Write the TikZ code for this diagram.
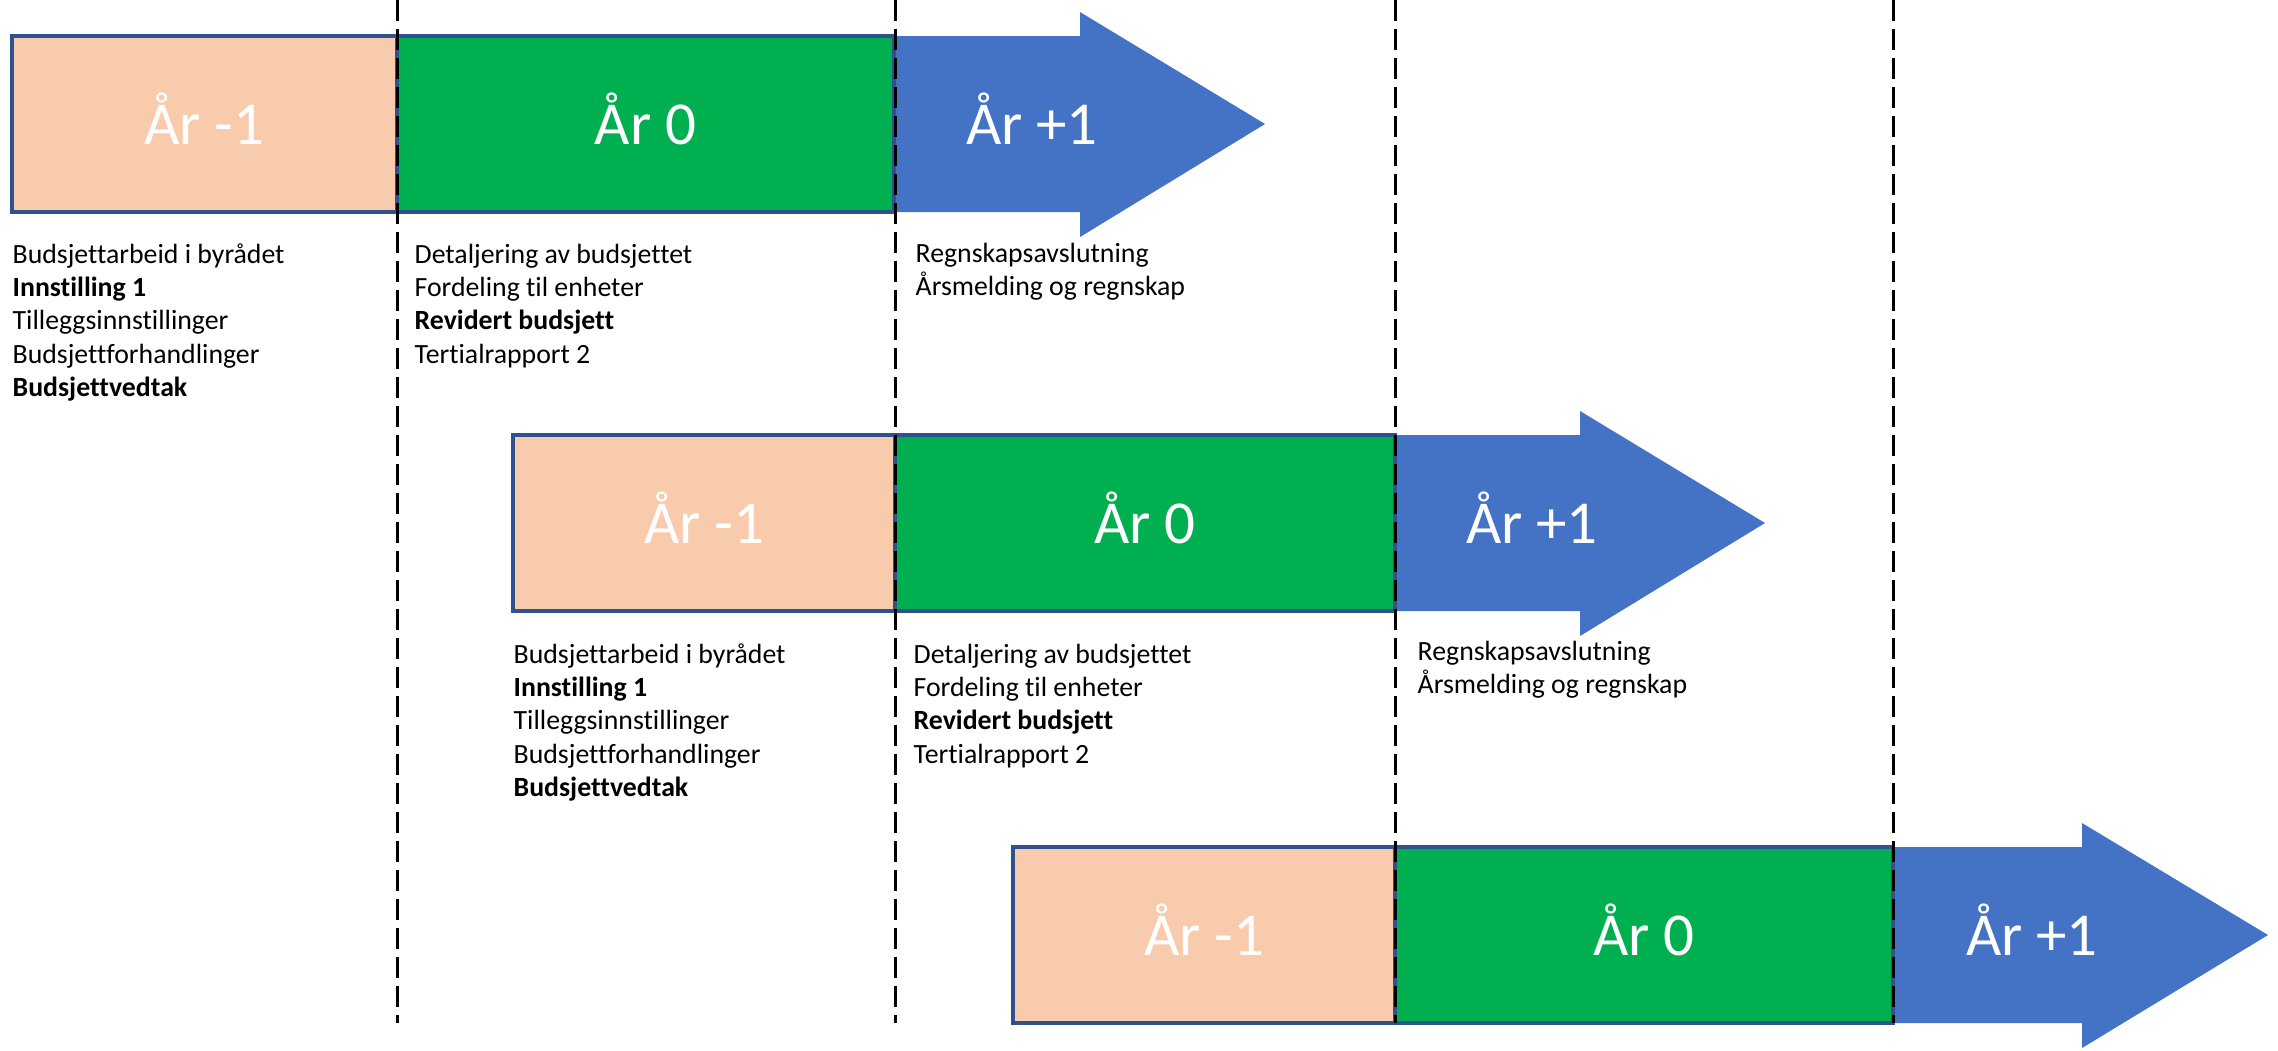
\documentclass[tikz,border=0pt]{standalone}
\usepackage{fontspec}
\setmainfont[Ligatures=NoCommon]{Carlito}
\definecolor{peach}{HTML}{F8CBAD}
\definecolor{grn}{HTML}{00B050}
\definecolor{blu}{HTML}{4472C4}
\definecolor{edge}{HTML}{2F528F}
\newcommand\stk[1]{\vtop{\baselineskip=10.02pt\lineskiplimit=-20pt #1}}
\newcommand\tline[1]{\hbox{#1}}
\begin{document}
\begin{tikzpicture}[x=0.3pt,y=-0.3pt,
  box/.style={draw=edge,line width=1pt,inner sep=0pt,minimum height=176*0.3pt},
  peachbox/.style={box,fill=peach},
  greenbox/.style={box,fill=grn},
  arrowbody/.style={fill=blu},
  yearlbl/.style={text=white,font=\fontsize{18.3pt}{22pt}\selectfont,anchor=base,inner sep=0pt},
  notes/.style={anchor=base west,inner sep=0pt,font=\fontsize{8.34pt}{10pt}\selectfont,text=black},
  guide/.style={line width=0.9pt,dash pattern=on 6.3pt off 2.4pt}]
\useasboundingbox (0,0) rectangle (2278,1050);

% ---- Row 1 ----
\fill[arrowbody] (12,36) -- (1080,36) -- (1080,12) -- (1265,124) -- (1080,237) -- (1080,212) -- (12,212) -- cycle;
\node[peachbox,minimum width=385*0.3pt] (p1) at (204.5,124) {};
\node[greenbox,minimum width=497*0.3pt] (g1) at (645.5,124) {};

% ---- Row 2 ----
\fill[arrowbody] (513,435) -- (1580,435) -- (1580,411) -- (1765,523) -- (1580,636) -- (1580,611) -- (513,611) -- cycle;
\node[peachbox,minimum width=382*0.3pt] (p2) at (704,523) {};
\node[greenbox,minimum width=500*0.3pt] (g2) at (1145,523) {};

% ---- Row 3 ----
\fill[arrowbody] (1013,847) -- (2082,847) -- (2082,823) -- (2268,935) -- (2082,1048) -- (2082,1023) -- (1013,1023) -- cycle;
\node[peachbox,minimum width=382*0.3pt] (p3) at (1204,935) {};
\node[greenbox,minimum width=498*0.3pt] (g3) at (1644,935) {};

% ---- dashed guides ----
\coordinate (d1t) at (397,0);  \coordinate (d1b) at (397,1023);
\coordinate (d2t) at (895,0);  \coordinate (d2b) at (895,1023);
\coordinate (d3t) at (1395,0); \coordinate (d3b) at (1395,1023);
\coordinate (d4t) at (1893,0); \coordinate (d4b) at (1893,1023);
\draw[guide] (d1t) -- (d1b);
\draw[guide] (d2t) -- (d2b);
\draw[guide] (d3t) -- (d3b);
\draw[guide] (d4t) -- (d4b);

% ---- year labels ----
\node[yearlbl] (l1a) at (204.5,144) {År -1};
\node[yearlbl] (l1b) at (645.5,144) {År 0};
\node[yearlbl] (l1c) at (1032,144) {År +1};
\node[yearlbl] (l2a) at (704,543) {År -1};
\node[yearlbl] (l2b) at (1145,543) {År 0};
\node[yearlbl] (l2c) at (1532,543) {År +1};
\node[yearlbl] (l3a) at (1204,955) {År -1};
\node[yearlbl] (l3b) at (1644,955) {År 0};
\node[yearlbl] (l3c) at (2032,955) {År +1};

% ---- notes row 1 ----
\node[notes] (n1a) at (12,263) {\stk{\tline{Budsjettarbeid i byrådet}\tline{\textbf{Innstilling 1}}\tline{Tilleggsinnstillinger}\tline{Budsjettforhandlinger}\tline{\textbf{Budsjettvedtak}}}};
\node[notes] (n1b) at (414,263) {\stk{\tline{Detaljering av budsjettet}\tline{Fordeling til enheter}\tline{\textbf{Revidert budsjett}}\tline{Tertialrapport 2}}};
\node[notes] (n1c) at (915,262) {\stk{\tline{Regnskapsavslutning}\tline{Årsmelding og regnskap}}};

% ---- notes row 2 ----
\node[notes] (n2a) at (513,663) {\stk{\tline{Budsjettarbeid i byrådet}\tline{\textbf{Innstilling 1}}\tline{Tilleggsinnstillinger}\tline{Budsjettforhandlinger}\tline{\textbf{Budsjettvedtak}}}};
\node[notes] (n2b) at (913,663) {\stk{\tline{Detaljering av budsjettet}\tline{Fordeling til enheter}\tline{\textbf{Revidert budsjett}}\tline{Tertialrapport 2}}};
\node[notes] (n2c) at (1417,660) {\stk{\tline{Regnskapsavslutning}\tline{Årsmelding og regnskap}}};
\end{tikzpicture}
\end{document}
